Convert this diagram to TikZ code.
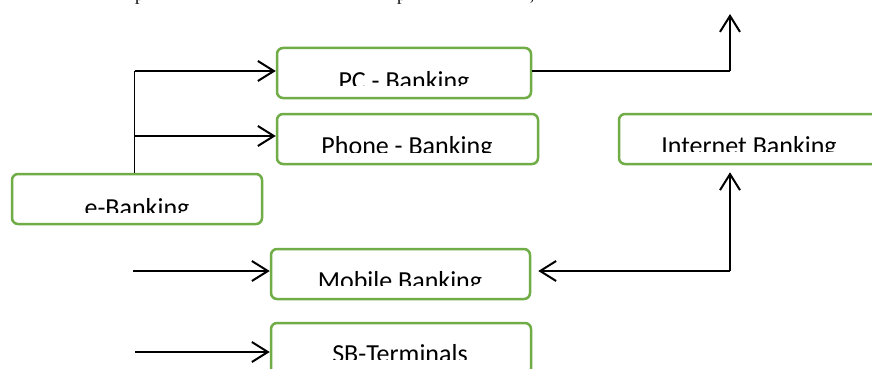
\documentclass[tikz,border=0pt]{standalone}
\usepackage{fontspec}
\setmainfont{Carlito}
\newfontfamily\serifpart{Liberation Serif}
\usetikzlibrary{arrows.meta}
\definecolor{boxgreen}{HTML}{70AD47}
\tikzset{
  bankbox/.style={draw=boxgreen, line width=2.5pt, rounded corners=6pt, inner sep=0pt},
  lbl/.style={font=\fontsize{26}{30}\selectfont, inner sep=0pt, anchor=base},
  arr/.style={line width=2.2pt, -{Straight Barb[length=16pt,width=20pt,line width=2pt]}},
  thinline/.style={line width=1.3pt},
  thickline/.style={line width=2.2pt},
}
% label clipped just above its baseline: x, baseline, clip line, name, text
\newcommand\cutlabel[5]{%
  \begin{scope}
    \clip (#1-200,0) rectangle (#1+200,#3);
    \node[lbl] (#4) at (#1,#2) {#5};
  \end{scope}}
\begin{document}
\begin{tikzpicture}[x=1pt,y=-1pt]
\clip (0,0) rectangle (872,369);
\fill[white] (0,0) rectangle (872,369);

% descenders of the line of text above
\node[font=\serifpart\fontsize{18}{20}\selectfont, inner sep=0pt, anchor=base] (d1) at (139.5,0.5) {p};
\node[font=\serifpart\fontsize{18}{20}\selectfont, inner sep=0pt, anchor=base] (d2) at (401.5,0.5) {p};
\node[font=\serifpart\fontsize{18}{20}\selectfont, inner sep=0pt, anchor=base] (d3) at (532,0.5) {,};

% boxes
\node[bankbox, minimum width=250pt, minimum height=50pt] (eb) at (137,199) {};
\node[bankbox, minimum width=254pt, minimum height=50pt] (pc) at (404,73) {};
\node[bankbox, minimum width=261pt, minimum height=50pt] (ph) at (407.5,139) {};
\node[bankbox, minimum width=261pt, minimum height=50pt] (ib) at (749.5,139) {};
\node[bankbox, minimum width=259pt, minimum height=50pt] (mb) at (400.5,274) {};
\node[bankbox, minimum width=260pt, minimum height=52pt] (sb) at (401,349) {};

% labels
\cutlabel{137}{216}{212}{ebl}{e-Banking}
\cutlabel{404}{89}{85}{pcl}{PC - Banking}
\cutlabel{407}{154}{152}{phl}{Phone - Banking}
\cutlabel{749}{154}{151}{ibl}{Internet Banking}
\cutlabel{400}{289}{285}{mbl}{Mobile Banking}
\cutlabel{400}{362}{359}{sbl}{SB-Terminals}

% e-Banking branches
\coordinate (j1) at (134.5,71);
\coordinate (j2) at (134.5,136);
\draw[thinline] (eb.north -| j1) -- (j1);
\draw[arr] (j1) -- (j1 -| pc.west);
\draw[arr] (j2) -- (j2 -| ph.west);

% PC-Banking upwards
\coordinate (t1) at (730,71);
\coordinate (t2) at (730,14);
\draw[thinline] (pc.east |- t1) -- (t1);
\draw[arr] (t1) -- (t2);

% Mobile Banking <-> Internet Banking
\coordinate (c) at (730,271);
\draw[arr, shorten >=7pt] (c) -- (c -| mb.east);
\draw[arr, shorten >=7pt] (c) -- (c |- ib.south);

% incoming arrows
\coordinate (m0) at (133,271);
\coordinate (s0) at (135,352);
\draw[arr] (m0) -- (m0 -| mb.west);
\draw[arr] (s0) -- (s0 -| sb.west);
\end{tikzpicture}
\end{document}
